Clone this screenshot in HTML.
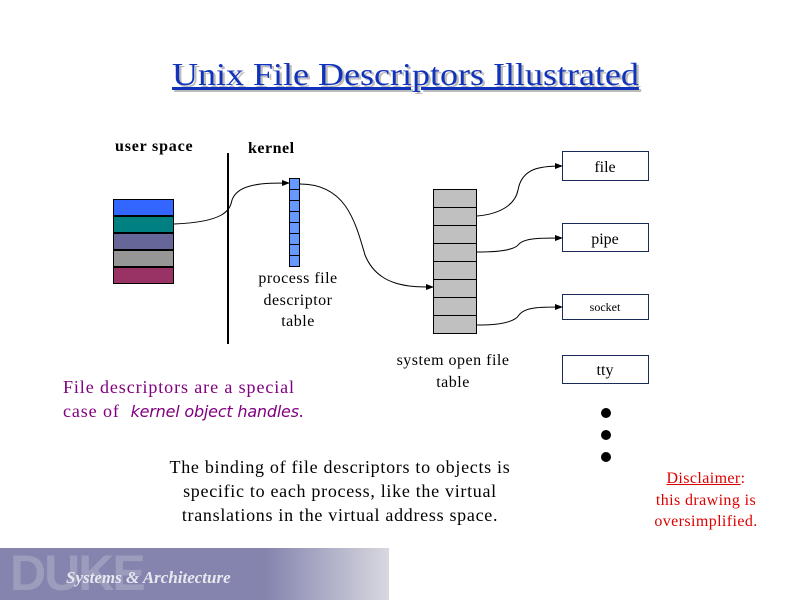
<!DOCTYPE html>
<html><head><meta charset="utf-8"><style>
body{margin:0;width:800px;height:600px;background:#fff;position:relative;overflow:hidden;font-family:"Liberation Serif",serif}
.t{position:absolute;white-space:nowrap}
</style></head><body>
<div class="t" style="left:172px;top:56px;font-size:32px;color:#1133bb;text-decoration:underline;text-shadow:2px 2px 0 #bbb;transform:scaleX(1.125);transform-origin:0 0">Unix File Descriptors Illustrated</div>
<div class="t" style="left:115px;top:138px;font-size:16px;font-weight:bold;letter-spacing:0.8px">user space</div>
<div class="t" style="left:248px;top:140px;font-size:16px;font-weight:bold;letter-spacing:0.5px">kernel</div>
<div class="t" style="left:238px;top:268px;width:120px;text-align:center;font-size:16px;line-height:21.5px;letter-spacing:0.5px">process file<br>descriptor<br>table</div>
<div class="t" style="left:388px;top:350px;width:130px;text-align:center;font-size:16px;line-height:21.5px;letter-spacing:0.5px">system open file<br>table</div>
<div class="t" style="left:63px;top:375px;font-size:18px;line-height:24px;color:#800080;letter-spacing:0.9px">File descriptors are a special<br>case of &nbsp;<span style="font-family:'DejaVu Sans',sans-serif;font-style:italic;font-size:16px;letter-spacing:-0.2px">kernel object handles</span>.</div>
<div class="t" style="left:130px;top:455px;width:420px;text-align:center;font-size:18px;line-height:24px;letter-spacing:0.7px">The binding of file descriptors to objects is<br>specific to each process, like the virtual<br>translations in the virtual address space.</div>
<div class="t" style="left:640px;top:468px;width:132px;text-align:center;font-size:16px;line-height:21.5px;color:#dd0000;letter-spacing:0.4px"><u>Disclaimer</u>:<br>this drawing is<br>oversimplified.</div>
<div style="position:absolute;left:0;top:548px;width:389px;height:52px;background:linear-gradient(90deg,#8484ae 0,#8484ae 265px,#d8d8e0 389px)"></div>
<div class="t" style="left:10px;top:544px;font-size:50px;font-weight:bold;font-family:'Liberation Sans',sans-serif;color:#9c9cbc;letter-spacing:-2px">DUKE</div>
<div class="t" style="left:66px;top:568px;font-size:17px;font-style:italic;font-weight:bold;color:#e8e8f0">Systems &amp; Architecture</div>
<svg width="800" height="600" style="position:absolute;left:0;top:0">
<defs><marker id="a" markerWidth="8" markerHeight="6" refX="7" refY="3" orient="auto" markerUnits="userSpaceOnUse"><path d="M0,0L8,3L0,6z" fill="#000"/></marker></defs>
<line x1="228" y1="153" x2="228" y2="344" stroke="#000" stroke-width="2"/>
<g stroke="#000" stroke-width="1">
<rect x="113.5" y="199.5" width="60" height="16" fill="#3366ff"/>
<rect x="113.5" y="216.5" width="60" height="16" fill="#008080"/>
<rect x="113.5" y="233.5" width="60" height="16" fill="#666699"/>
<rect x="113.5" y="250.5" width="60" height="16" fill="#969696"/>
<rect x="113.5" y="267.5" width="60" height="16" fill="#993366"/>
</g>
<g stroke="#000" stroke-width="1" fill="#6699ff">
<rect x="289.5" y="178.5" width="10" height="11"/><rect x="289.5" y="189.5" width="10" height="11"/><rect x="289.5" y="200.5" width="10" height="11"/><rect x="289.5" y="211.5" width="10" height="11"/><rect x="289.5" y="222.5" width="10" height="11"/><rect x="289.5" y="233.5" width="10" height="11"/><rect x="289.5" y="244.5" width="10" height="11"/><rect x="289.5" y="255.5" width="10" height="11"/>
</g>
<g stroke="#000" fill="#c0c0c0">
<rect x="433.5" y="189.5" width="43" height="18"/>
<rect x="433.5" y="207.5" width="43" height="18"/><rect x="433.5" y="225.5" width="43" height="18"/><rect x="433.5" y="243.5" width="43" height="18"/><rect x="433.5" y="261.5" width="43" height="18"/><rect x="433.5" y="279.5" width="43" height="18"/><rect x="433.5" y="297.5" width="43" height="18"/><rect x="433.5" y="315.5" width="43" height="18"/>
</g>
<g stroke="#1a2a5a" fill="#fff">
<rect x="562.5" y="151.5" width="86" height="29"/>
<rect x="562.5" y="223.5" width="86" height="28"/>
<rect x="562.5" y="294.5" width="86" height="25"/>
<rect x="562.5" y="355.5" width="86" height="28"/>
</g>
<g fill="none" stroke="#000" stroke-width="1" marker-end="url(#a)">
<path d="M174,224 C225,222 230,210 232,200 C238,183 265,183 289,183"/>
<path d="M300,184 C345,184 355,220 365,255 C378,287 410,287 433,287"/>
<path d="M477,216 C500,214 515,205 518,190 C522,168 540,166 562,166"/>
<path d="M477,252 C500,252 515,250 519,244 C525,238 540,238 562,238"/>
<path d="M477,325 C500,325 515,322 519,315 C525,307 540,307 562,307"/>
</g>
<circle cx="606" cy="413" r="5"/><circle cx="606" cy="435" r="5"/><circle cx="606" cy="457" r="5"/>
<g font-family="Liberation Serif,serif" text-anchor="middle">
<text x="605" y="172" font-size="16">file</text>
<text x="605" y="244" font-size="16">pipe</text>
<text x="605" y="311" font-size="12">socket</text>
<text x="605" y="375" font-size="16">tty</text>
</g>
</svg>
</body></html>
